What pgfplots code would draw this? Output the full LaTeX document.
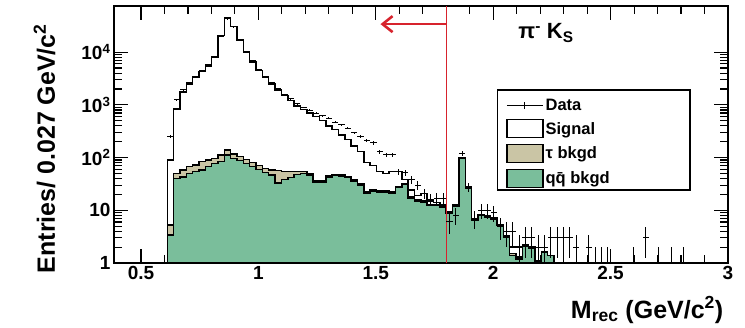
\documentclass[border=0pt]{standalone}
\usepackage{pgfplots}
\pgfplotsset{compat=1.18}
\usepackage{pgfplotstable}
\usepackage{fontspec}
\setmainfont{Liberation Sans}
\usetikzlibrary{arrows.meta}

\definecolor{qqgreen}{RGB}{122,190,155}
\definecolor{taubeige}{RGB}{202,197,165}
\definecolor{cutred}{RGB}{215,35,45}

% Stacked MC: left bin edge, total (signal+tau+qq), tau+qq, qq only
\pgfplotstableread{
x      tot     tau    qq
0.612  90      5.3    3.4
0.639  830     50     40
0.666  1750    58     43
0.693  2500    67     50
0.720  3400    72     54
0.747  4300    84     58
0.774  5500    90     67
0.801  8000    97     78
0.828  20500   112    84
0.855  44000   140    112
0.882  30500   117    97
0.909  17000   104    88
0.936  10000   92     78
0.963  6500    80     68
0.990  4500    70     60
1.017  3300    62     52
1.044  2500    58     47
1.071  1900    57     33
1.098  1500    55     38
1.125  1200    55     42
1.152  950     55     48
1.179  820     55     50
1.206  700     50     47
1.233  600     36     34
1.260  500     36     34
1.287  400     45     43
1.314  340     48     46
1.341  270     47     45
1.368  220     44     42
1.395  165     38     36
1.422  130     32     30
1.449  80      22     21
1.476  70      24     23
1.503  55      23     22
1.530  50      23     22
1.557  54      22     21
1.584  54      28     27
1.611  38      32     31
1.638  24      18     17
1.665  19      16     15
1.692  21      15     14
1.719  15      13     12.5
1.746  14      13     12.5
1.773  13      12     11.5
1.800  9.5     9      8.8
1.827  12.5    12     11.8
1.854  98      97     95
1.881  28      27     26
1.908  6.8     6.6    6.5
1.935  8.3     8.1    8.0
1.962  7.8     7.6    7.5
1.989  7.2     7.0    6.9
2.016  5.4     5.3    5.2
2.043  3.3     3.2    3.1
2.070  2.0     1.5    1.4
2.097  2.0     1.3    1.2
2.124  2.2     2.2    2.1
2.151  2.0     2.0    1.9
2.178  1.1     1.05   1.0
2.205  1.6     1.6    1.6
2.232  1.4     1.4    1.4
2.259  0.3     0.3    0.3
2.286  0.3     0.3    0.3
}\mctab

% Data: bin centre, entries
\pgfplotstableread{
x       n
0.6255  250
0.6525  1250
0.6795  1950
0.7065  2600
0.7335  3500
0.7605  4400
0.7875  5800
0.8145  8300
0.8415  20000
0.8685  43000
0.8955  30000
0.9225  17500
0.9495  10200
0.9765  6800
1.0035  4700
1.0305  3400
1.0575  2600
1.0845  2000
1.1115  1600
1.1385  1300
1.1655  1050
1.1925  900
1.2195  790
1.2465  690
1.2735  620
1.3005  560
1.3275  470
1.3545  415
1.3815  360
1.4085  295
1.4355  250
1.4625  215
1.4895  190
1.5165  128
1.5435  112
1.5705  112
1.5975  54
1.6245  52
1.6515  38
1.6785  30
1.7055  21
1.7325  16
1.7595  17
1.7865  17
1.8135  6
1.8405  8
1.8675  120
1.8945  28
1.9215  7
1.9485  10
1.9755  10
2.0025  9
2.0295  5
2.0565  4
2.0835  4
2.1105  2
2.1375  3
2.1645  3
2.1915  2
2.2185  2
2.2455  3
2.2725  3
2.2995  3
2.3265  3
2.3535  2
2.4075  2
2.4345  1
2.4615  1
2.4885  1
2.5965  1
2.6505  3
2.7045  1
2.7585  1
2.8125  1
}\datatab

\begin{document}
\begin{tikzpicture}
\begin{axis}[
  scale only axis,
  width=614pt, height=257pt,
  xmin=0.385, xmax=3.0,
  ymode=log, ymin=1, ymax=7.5e4,
  xtick={0.5,1,1.5,2,2.5,3},
  xticklabels={0.5,1,1.5,2,2.5,3},
  minor x tick num=4,
  ytick={1,10,100,1000,10000},
  yticklabels={1,10,10\textsuperscript{2},10\textsuperscript{3},10\textsuperscript{4}},
  tick align=inside,
  major tick length=14pt, minor tick length=8pt,
  tick style={black, line width=1.1pt},
  axis line style={line width=1.4pt},
  tick label style={font=\fontsize{19}{19}\selectfont\bfseries},
  xlabel={M\textsubscript{rec} (GeV/c\textsuperscript{2})},
  xlabel style={font=\fontsize{25}{25}\selectfont\bfseries, at={(axis description cs:0.998,-0.214)}, anchor=base east},
  ylabel={Entries/ 0.027 GeV/c\textsuperscript{2}},
  ylabel style={font=\fontsize{25}{25}\selectfont\bfseries, at={(axis description cs:-0.0961,0.445)}, anchor=base},
  legend style={at={(0.624,0.673)}, anchor=north west, draw=none, fill=none,
    font=\fontsize{16.5}{16.5}\selectfont\bfseries, inner xsep=9pt, inner ysep=6.5pt,
    row sep=5.6pt, cells={anchor=west},
    /tikz/every even column/.append style={column sep=6pt}},
  legend cell align=left,
]
% stacked histograms, drawn back to front
\addplot[const plot, draw=black, line width=1.5pt, fill=white, forget plot]
  table[x=x, y=tot] {\mctab} \closedcycle;
\addplot[const plot, draw=black, line width=1.5pt, fill=taubeige, forget plot]
  table[x=x, y=tau] {\mctab} \closedcycle;
\addplot[const plot, draw=black, line width=1.5pt, fill=qqgreen, forget plot]
  table[x=x, y=qq] {\mctab} \closedcycle;

% signal-region cut
\draw[cutred, line width=1.3pt] (axis cs:1.8,1) -- (axis cs:1.8,7.5e4);
\draw[cutred, line width=2.6pt, -{Straight Barb[length=10pt,width=16pt,line width=2.6pt]}]
  (axis cs:1.8,3.4e4) -- (axis cs:1.52,3.4e4);

% data with statistical errors
\addplot[black, only marks, mark=*, mark size=0pt, line width=1pt, forget plot,
  error bars/.cd, x dir=both, x explicit, y dir=both, y explicit, error mark=none,
  error bar style={line width=1pt, black}]
  table[x=x, y=n, x error expr=0.0135,
        y error plus expr={sqrt(\thisrow{n})},
        y error minus expr={min(sqrt(\thisrow{n}),0.999*\thisrow{n})}] {\datatab};

\node[font=\fontsize{22}{22}\selectfont\bfseries, anchor=center]
  at (axis cs:2.225,2.3e4) {π\textsuperscript{-} K\textsubscript{S}};

% legend frame
\draw[black, line width=1.2pt, fill=white]
  (rel axis cs:0.624,0.673) rectangle (rel axis cs:0.938,0.284);

\addlegendimage{legend image code/.code={
  \draw[black, line width=1pt] (0pt,0pt) -- (36pt,0pt);
  \draw[black, line width=1pt] (18pt,-3.5pt) -- (18pt,3.5pt);}}
\addlegendentry{Data}
\addlegendimage{legend image code/.code={
  \draw[black, line width=1.3pt, fill=white] (0pt,-9pt) rectangle (36pt,9pt);}}
\addlegendentry{Signal}
\addlegendimage{legend image code/.code={
  \draw[black, line width=1.3pt, fill=taubeige] (0pt,-9pt) rectangle (36pt,9pt);}}
\addlegendentry{τ bkgd}
\addlegendimage{legend image code/.code={
  \draw[black, line width=1.3pt, fill=qqgreen] (0pt,-9pt) rectangle (36pt,9pt);}}
\addlegendentry{q\={q} bkgd}

\node[font=\fontsize{4.5}{5}\selectfont\bfseries, fill=white, inner sep=0.6pt, anchor=east]
  at (rel axis cs:1.006,1.012) {\texttrademark{} and \textcopyright{} Nelvana, All Rights Reserved};
\end{axis}
\pgfresetboundingbox
\path (-114pt,-64pt) rectangle (631pt,263pt);
\end{tikzpicture}
\end{document}
